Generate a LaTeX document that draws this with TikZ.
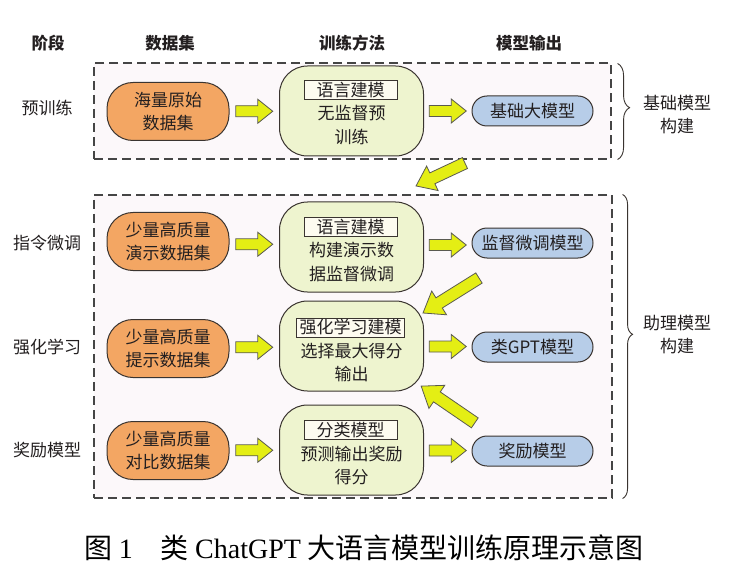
\documentclass[tikz,border=0pt]{standalone}
\usepackage{fontspec}
\setmainfont{Noto Sans CJK SC}
\newfontfamily\capserif{Liberation Serif}
\usetikzlibrary{calc,decorations.pathreplacing}
\definecolor{txt}{HTML}{231F20}
\definecolor{outl}{HTML}{3A3430}
\definecolor{orangefill}{HTML}{F3A663}
\definecolor{greenfill}{HTML}{EEF4CF}
\definecolor{bluefill}{HTML}{B7CDE8}
\definecolor{tagfill}{HTML}{FDFBF0}
\definecolor{arrowfill}{HTML}{E4EE14}
\definecolor{arrowline}{HTML}{5A5A50}
\definecolor{dashcol}{HTML}{454545}
\definecolor{framefill}{HTML}{FCF8FA}
\tikzset{
  stagelab/.style={font=\fontsize{17}{20}\selectfont, text=txt, inner sep=0pt},
  head/.style={font=\fontsize{16.5}{20}\selectfont\bfseries, text=txt, inner sep=0pt},
  databox/.style={draw=outl, line width=1pt, fill=orangefill, rounded corners=26pt,
    minimum width=122pt, minimum height=58pt, align=center,
    font=\fontsize{17}{23}\selectfont, text=txt, inner sep=0pt},
  methodbox/.style={draw=outl, line width=1pt, fill=greenfill, rounded corners=28pt,
    minimum width=144pt, minimum height=90pt},
  tagbox/.style={draw=outl, line width=1pt, fill=tagfill, minimum width=93pt,
    minimum height=19pt, inner xsep=3pt, inner ysep=0pt,
    font=\fontsize{17}{19}\selectfont, text=txt},
  methodtxt/.style={align=center, font=\fontsize{17}{23.5}\selectfont, text=txt, inner sep=0pt},
  modelbox/.style={draw=outl, line width=1pt, fill=bluefill, rounded corners=15pt,
    minimum width=121pt, minimum height=30pt, font=\fontsize{17}{20}\selectfont,
    text=txt, inner sep=0pt},
  frame/.style={draw=dashcol, line width=1.1pt, dash pattern=on 9pt off 5pt,
    fill=framefill, inner sep=0pt},
  bracelab/.style={align=center, font=\fontsize{17}{23}\selectfont, text=txt, inner sep=0pt},
  curly/.style={draw=outl, line width=0.9pt, decorate, decoration={brace, amplitude=#1, aspect=0.46}},
  arrowsty/.style={draw=arrowline, fill=arrowfill, line width=0.8pt, line join=miter},
  pics/blockarr/.style n args={4}{code={
    \path[arrowsty] (-#1/2,-#2/2) -- (#1/2-#4,-#2/2) -- (#1/2-#4,-#3/2) -- (#1/2,0)
      -- (#1/2-#4,#3/2) -- (#1/2-#4,#2/2) -- (-#1/2,#2/2) -- cycle;
  }}
}
\begin{document}
\begin{tikzpicture}[x=1pt,y=-1pt]
\useasboundingbox[fill=white] (0,0) rectangle (751,569);

% frames
\node[frame, minimum width=517pt, minimum height=96pt] (frame1) at (352.5,111) {};
\node[frame, minimum width=518pt, minimum height=303pt] (frame2) at (353,346.5) {};

% headers
\node[head] (h1) at (48,43) {阶段};
\node[head] (h2) at (170,43) {数据集};
\node[head] (h3) at (352,43) {训练方法};
\node[head] (h4) at (529,43) {模型输出};

% stage labels
\node[stagelab] (s1) at (47,108) {预训练};
\node[stagelab] (s2) at (47,243) {指令微调};
\node[stagelab] (s3) at (47,347) {强化学习};
\node[stagelab] (s4) at (47,450) {奖励模型};

% data boxes
\node[databox] (o1) at (168,111.5) {海量原始\\数据集};
\node[databox] (o2) at (168,241.5) {少量高质量\\演示数据集};
\node[databox] (o3) at (168,348.5) {少量高质量\\提示数据集};
\node[databox] (o4) at (168,450.5) {少量高质量\\对比数据集};

% method boxes
\node[methodbox] (g1) at (351.5,111) {};
\node[methodbox] (g2) at (351.5,247) {};
\node[methodbox] (g3) at (351.5,346) {};
\node[methodbox] (g4) at (351.5,450) {};
\node[tagbox] (t1) at ($(g1.center)+(-1,-21)$) {语言建模};
\node[tagbox] (t2) at ($(g2.center)+(-1,-20)$) {语言建模};
\node[tagbox] (t3) at ($(g3.center)+(-1,-18.5)$) {强化学习建模};
\node[tagbox] (t4) at ($(g4.center)+(-1,-20)$) {分类模型};
\node[methodtxt] (m1) at ($(g1.center)+(0,14)$) {无监督预\\训练};
\node[methodtxt] (m2) at ($(g2.center)+(0,15)$) {构建演示数\\据监督微调};
\node[methodtxt] (m3) at ($(g3.center)+(0,16.5)$) {选择最大得分\\输出};
\node[methodtxt] (m4) at ($(g4.center)+(0,15.5)$) {预测输出奖励\\得分};

% model boxes
\node[modelbox] (b1) at (532.5,111) {基础大模型};
\node[modelbox] (b2) at (532.5,243) {监督微调模型};
\node[modelbox] (b3) at (532.5,347) {类GPT模型};
\node[modelbox] (b4) at (532.5,451) {奖励模型};

% horizontal block arrows
\foreach \r in {1,2,3,4}{
  \pic (la\r) at ($(o\r.east)!0.5!(g\r.west)$) {blockarr={37}{11}{24}{15}};
  \pic (ra\r) at ($(g\r.east)!0.5!(b\r.west)$) {blockarr={37}{11}{24}{15}};
}

% diagonal block arrows
\coordinate (tA) at (465,163);
\coordinate (hA) at (416,186);
\coordinate (tB) at (479,278);
\coordinate (hB) at (423,313);
\coordinate (tC) at (475,423);
\coordinate (hC) at (421,386);
\pic[rotate=205.1] (dA) at ($(tA)!0.5!(hA)$) {blockarr={54}{12}{27}{18}};
\pic[rotate=212] (dB) at ($(tB)!0.5!(hB)$) {blockarr={66}{12}{28}{19}};
\pic[rotate=145.6] (dC) at ($(tC)!0.5!(hC)$) {blockarr={65}{12}{28}{19}};

% braces
\draw[curly=12pt] ($(frame1.north east)+(6,1)$) -- ($(frame1.south east)+(6,0)$);
\draw[curly=10pt] ($(frame2.north east)+(10,0)$) -- ($(frame2.south east)+(10,0)$);
\node[bracelab] (l1) at (677,115) {基础模型\\构建};
\node[bracelab] (l2) at (677,335) {助理模型\\构建};

% caption
\node[font=\fontsize{28}{31}\selectfont, text=black, inner sep=0pt] (cap) at (364,548)
  {图 {\capserif 1}\hspace{1em}类 {\capserif ChatGPT} 大语言模型训练原理示意图};
\end{tikzpicture}
\end{document}
